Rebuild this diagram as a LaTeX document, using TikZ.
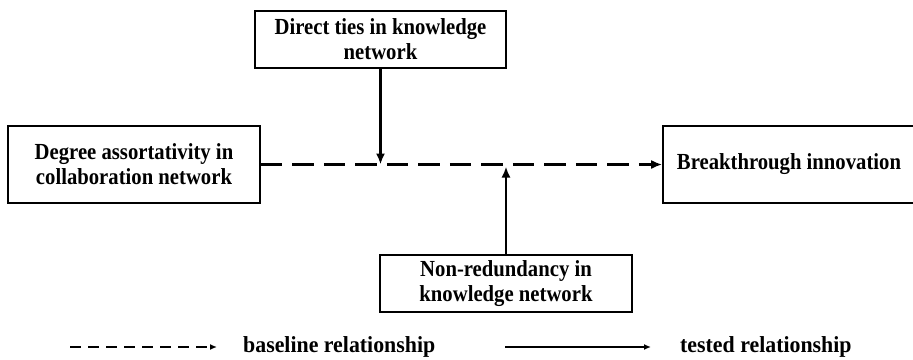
\documentclass[tikz,border=0pt]{standalone}
\usepackage{fontspec}
\setmainfont{Liberation Serif}
\newfontfamily\narrowserif[FakeStretch=0.9]{Liberation Serif}
\newfontfamily\legendserif[FakeStretch=0.95]{Liberation Serif}
\usetikzlibrary{arrows.meta}

\tikzset{
  box/.style={draw, line width=1.6pt, align=center, inner sep=0pt,
    font=\narrowserif\fontsize{23}{25}\selectfont\bfseries},
  baseline/.style={line width=2.6pt, dash pattern=on 21.5pt off 10pt,
    -{Latex[length=11pt,width=9pt]}},
  tested/.style={line width=2.5pt, -{Latex[length=11pt,width=9pt]}},
  legtext/.style={anchor=west, inner sep=0pt,
    font=\legendserif\fontsize{23}{25}\selectfont\bfseries}
}

\begin{document}
\begin{tikzpicture}[x=1pt,y=-1pt]
        \useasboundingbox (0,0) rectangle (913,359);
        \node[box, minimum width=252pt, minimum height=77pt] (assort) at (134,164.5) {Degree assortativity in\\collaboration network};
        \node[box, minimum width=251pt, minimum height=57pt] (direct) at (380.5,39.5) {Direct ties in knowledge\\network};
        \node[box, minimum width=252pt, minimum height=77pt] (breakthrough) at (789,164.5) {Breakthrough innovation};
        \node[box, minimum width=252pt, minimum height=57pt] (nonred) at (506,283.5) {Non-redundancy in\\knowledge network};
        \draw[baseline] (assort.east) -- (breakthrough.west);
        \coordinate (topmeet) at (direct.south |- assort.east);
        \coordinate (botmeet) at ([yshift=-2pt]nonred.north |- assort.east);
        \draw[tested] (direct.south) -- (topmeet);
        \draw[tested] (nonred.north) -- (botmeet);
        % legend
        \coordinate (dashfrom) at (70,347);
        \coordinate (dashto) at (217,347);
        \coordinate (solidfrom) at (505,347);
        \coordinate (solidto) at (651,347);
        \draw[line width=1.4pt, dash pattern=on 11pt off 7pt, -{Latex[length=7pt,width=6pt]}] (dashfrom) -- (dashto);
        \node[legtext] (basetext) at (243,347) {baseline relationship};
        \draw[line width=1.4pt, -{Latex[length=7pt,width=6pt]}] (solidfrom) -- (solidto);
        \node[legtext] (testtext) at (680,347) {tested relationship};
\end{tikzpicture}
\end{document}
